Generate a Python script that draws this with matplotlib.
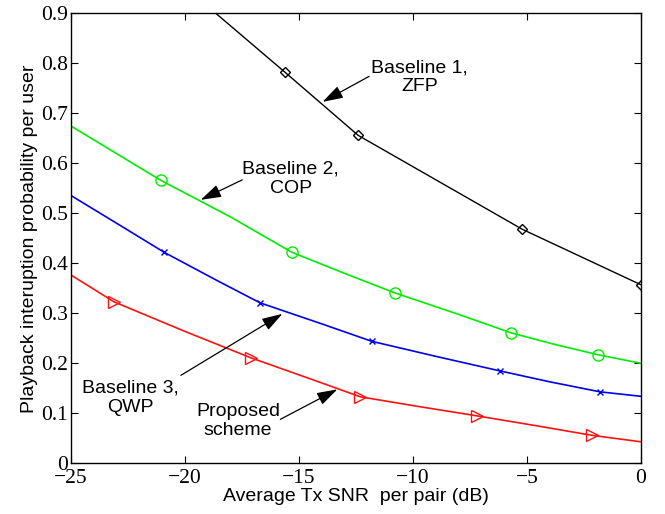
import matplotlib
matplotlib.use("Agg")
import matplotlib.pyplot as plt

# Values
x_zfp = [-20.0, -15.6, -12.4, -5.2, 0.0]
y_zfp = [0.953, 0.782, 0.656, 0.468, 0.357]
mk_zfp = [1, 2, 3, 4]

x_cop = [-25.0, -21.05, -18.0, -15.3, -13.0, -10.8, -8.0, -5.7, -3.8, -1.87, 0.0]
y_cop = [0.675, 0.566, 0.493, 0.422, 0.380, 0.341, 0.298, 0.261, 0.238, 0.217, 0.200]
mk_cop = [1, 3, 5, 7, 9]

x_qwp = [-25.0, -22.8, -20.9, -18.6, -16.7, -14.0, -11.8, -9.0, -6.2, -4.0, -1.8, 0.0]
y_qwp = [0.536, 0.475, 0.422, 0.366, 0.321, 0.279, 0.244, 0.214, 0.185, 0.163, 0.143, 0.134]
mk_qwp = [2, 4, 6, 8, 10]

x_prop = [-25.0, -23.1, -20.0, -17.1, -14.5, -12.3, -9.8, -7.2, -4.7, -2.15, 0.0]
y_prop = [0.377, 0.323, 0.264, 0.211, 0.169, 0.133, 0.114, 0.095, 0.076, 0.056, 0.043]
mk_prop = [1, 3, 5, 7, 9]

x_ticks = [-25, -20, -15, -10, -5, 0]
y_ticks = [0, 0.1, 0.2, 0.3, 0.4, 0.5, 0.6, 0.7, 0.8, 0.9]

fig = plt.figure(figsize=(6.65, 5.14), dpi=100)
ax = fig.add_axes([0.1063, 0.0986, 0.8577, 0.8754])

ax.plot(x_zfp, y_zfp, color='black', lw=1.0, marker='D', ms=5, mfc='none',
        mew=1.0, markevery=mk_zfp)
ax.plot(x_cop, y_cop, color='#00ee00', lw=1.2, marker='o', ms=8, mfc='none',
        mew=1.0, markevery=mk_cop)
ax.plot(x_qwp, y_qwp, color='#0000ee', lw=1.2, marker='x', ms=5, mew=1.0,
        markevery=mk_qwp)
ax.plot(x_prop, y_prop, color='#ff1111', lw=1.2, marker='>', ms=8, mfc='none',
        mew=1.0, markevery=mk_prop)

ax.set_xlim(-25, 0)
ax.set_ylim(0, 0.9)
ax.set_xticks(x_ticks)
ax.set_yticks(y_ticks)
ax.set_xticklabels(['\u221225', '\u221220', '\u221215', '\u221210', '\u22125', '0'])
ax.set_yticklabels(['0', '0.1', '0.2', '0.3', '0.4', '0.5', '0.6', '0.7', '0.8', '0.9'])
for lab in ax.get_xticklabels() + ax.get_yticklabels():
    lab.set_fontfamily('Liberation Serif')
    lab.set_fontsize(15.5)
ax.tick_params(direction='in', top=True, right=True, length=5, width=0.8)
ax.tick_params(axis='x', pad=4)
ax.tick_params(axis='y', pad=2)
for s in ax.spines.values():
    s.set_linewidth(1.0)

sans = 'Liberation Sans'
ax.set_xlabel('Average Tx SNR  per pair (dB)', fontfamily=sans, fontsize=14, labelpad=0)
ax.set_ylabel('Playback interuption probability per user', fontfamily=sans,
              fontsize=14, labelpad=2)

arrow = dict(arrowstyle='-|>,head_length=0.7,head_width=0.22', color='black',
             lw=0.9, mutation_scale=18, shrinkA=0, shrinkB=0)
ax.annotate('', xy=(-13.96, 0.723), xytext=(-11.92, 0.774), arrowprops=arrow)
ax.annotate('', xy=(-19.3, 0.527), xytext=(-17.48, 0.567), arrowprops=arrow)
ax.annotate('', xy=(-15.72, 0.299), xytext=(-20.17, 0.176), arrowprops=arrow)
ax.annotate('', xy=(-13.31, 0.148), xytext=(-15.81, 0.088), arrowprops=arrow)

ax.text(-9.7, 0.772, 'Baseline 1,\nZFP', ha='center', va='center',
        fontfamily=sans, fontsize=14, linespacing=1.15)
ax.text(-15.35, 0.569, 'Baseline 2,\nCOP', ha='center', va='center',
        fontfamily=sans, fontsize=14, linespacing=1.15)
ax.text(-22.4, 0.131, 'Baseline 3,\nQWP', ha='center', va='center',
        fontfamily=sans, fontsize=14, linespacing=1.15)
ax.text(-17.67, 0.085, 'Proposed\nscheme', ha='center', va='center',
        fontfamily=sans, fontsize=14, linespacing=1.15)

fig.savefig('out.png', dpi=100)
